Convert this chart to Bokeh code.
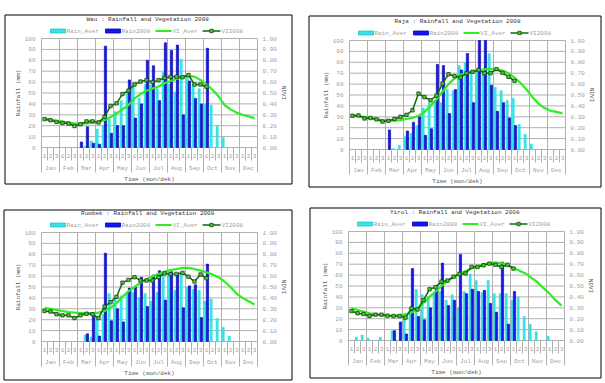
import math
from bokeh.plotting import figure
from bokeh.models import Range1d
from bokeh.core.properties import value
from bokeh.layouts import row, column
from bokeh.embed import file_html
from bokeh.resources import INLINE

# ---------------- data ----------------
dekads = list(range(36))
dekad_labels = ["1", "2", "3"] * 12
months = ["Jan", "Feb", "Mar", "Apr", "May", "Jun", "Jul", "Aug", "Sep", "Oct", "Nov", "Dec"]
rain_ticks = [0, 10, 20, 30, 40, 50, 60, 70, 80, 90, 100]
ndvi_ticks = [0.0, 0.1, 0.2, 0.3, 0.4, 0.5, 0.6, 0.7, 0.8, 0.9, 1.0]
legend_labels = ["Rain_Aver", "Rain2008", "VI_Aver", "VI2008"]
y_title = "Rainfall (mm)"
y2_title = "NDVI"
x_title = "Time (mon/dek)"

wau_title = "Wau  : Rainfall and Vegetation 2008"
wau_rain_aver = [0, 0, 0, 0, 0, 0, 0, 1, 6, 17, 20, 26, 33, 43, 52, 56, 45, 58, 57, 54,
                 69, 58, 51, 81, 64, 58, 54, 40, 39, 20, 9, 0, 0, 0, 0, 0]
wau_rain_2008 = [0, 0, 0, 0, 0, 0, 5, 19, 4, 3, 93, 13, 20, 20, 62, 27, 40, 80, 75, 43,
                 96, 89, 94, 30, 61, 45, 40, 91, 0, 0, 0, 0, 0, 0, 0, 0]
wau_vi_aver = [0.265, 0.255, 0.245, 0.237, 0.228, 0.222, 0.218, 0.222, 0.228, 0.235, 0.25, 0.28,
               0.31, 0.35, 0.39, 0.45, 0.49, 0.52, 0.54, 0.56, 0.59, 0.61, 0.63, 0.645,
               0.655, 0.65, 0.62, 0.58, 0.53, 0.47, 0.39, 0.35, 0.32, 0.30, 0.285, 0.27]
wau_vi_2008 = [0.26, 0.25, 0.235, 0.225, 0.22, 0.197, 0.213, 0.24, 0.24, 0.23, 0.28, 0.38,
               0.405, 0.49, 0.522, 0.578, 0.605, 0.618, 0.60, 0.618, 0.638, 0.648, 0.65, 0.645,
               0.665, 0.578, 0.578, 0.558]

raja_title = "Raja : Rainfall and Vegetation 2008"
raja_rain_aver = [0, 0, 0, 0, 0, 0, 0, 1, 4, 12, 15, 22, 38, 43, 45, 43, 55, 54, 77, 80,
                  70, 72, 70, 88, 57, 54, 45, 47, 23, 14, 5, 0, 0, 0, 0, 0]
raja_rain_2008 = [0, 0, 0, 0, 0, 0, 18, 0, 0, 17, 25, 30, 13, 19, 78, 77, 33, 55, 73, 88,
                  43, 100, 100, 59, 35, 43, 29, 22, 0, 0, 0, 0, 0, 0, 0, 0]
raja_vi_aver = [0.31, 0.305, 0.30, 0.29, 0.28, 0.27, 0.265, 0.265, 0.27, 0.28, 0.29, 0.31,
                0.345, 0.40, 0.46, 0.53, 0.60, 0.65, 0.685, 0.70, 0.715, 0.725, 0.735, 0.74,
                0.735, 0.725, 0.70, 0.66, 0.61, 0.55, 0.48, 0.42, 0.38, 0.355, 0.345, 0.33]
raja_vi_2008 = [0.31, 0.313, 0.285, 0.289, 0.276, 0.257, 0.264, 0.28, 0.30, 0.318, 0.36, 0.513,
                0.48, 0.452, 0.495, 0.605, 0.69, 0.673, 0.66, 0.70, 0.713, 0.73, 0.70, 0.70,
                0.737, 0.703, 0.667, 0.63]

rumbek_title = "Rumbek  : Rainfall and Vegetation 2008"
rumbek_rain_aver = [0, 0, 0, 0, 0, 0, 0, 6, 4, 22, 25, 44, 40, 42, 45, 45, 40, 44, 37, 45,
                    63, 63, 47, 62, 50, 48, 47, 37, 39, 21, 13, 5, 0, 0, 0, 0]
rumbek_rain_2008 = [0, 0, 0, 0, 0, 0, 0, 7, 23, 5, 81, 19, 30, 18, 49, 50, 59, 32, 61, 65,
                    38, 64, 62, 31, 51, 52, 22, 71, 0, 0, 0, 0, 0, 0, 0, 0]
rumbek_vi_aver = [0.31, 0.30, 0.29, 0.28, 0.27, 0.265, 0.26, 0.26, 0.26, 0.265, 0.28, 0.31,
                  0.35, 0.41, 0.46, 0.50, 0.54, 0.57, 0.60, 0.62, 0.64, 0.655, 0.665, 0.675,
                  0.675, 0.665, 0.65, 0.635, 0.615, 0.59, 0.55, 0.50, 0.44, 0.40, 0.37, 0.34]
rumbek_vi_2008 = [0.28, 0.275, 0.25, 0.24, 0.24, 0.215, 0.24, 0.255, 0.25, 0.215, 0.32, 0.36,
                  0.41, 0.54, 0.565, 0.59, 0.56, 0.56, 0.56, 0.59, 0.625, 0.618, 0.62, 0.63,
                  0.595, 0.55, 0.615, 0.58]

yirol_title = "Yirol  : Rainfall and Vegetation 2008"
yirol_rain_aver = [0, 3, 5, 2, 0, 3, 0, 9, 0, 22, 30, 47, 42, 40, 43, 45, 37, 42, 30, 45,
                   61, 55, 44, 55, 43, 43, 43, 37, 40, 22, 15, 8, 0, 4, 0, 0]
yirol_rain_2008 = [0, 0, 0, 0, 0, 0, 0, 9, 17, 6, 66, 22, 19, 30, 47, 71, 32, 37, 79, 43,
                   47, 45, 46, 34, 26, 72, 15, 45, 0, 0, 0, 0, 0, 0, 0, 0]
yirol_vi_aver = [0.295, 0.28, 0.265, 0.25, 0.24, 0.232, 0.228, 0.226, 0.23, 0.24, 0.255, 0.29,
                 0.345, 0.40, 0.45, 0.50, 0.545, 0.58, 0.61, 0.635, 0.66, 0.68, 0.70, 0.712,
                 0.715, 0.71, 0.69, 0.665, 0.64, 0.615, 0.575, 0.535, 0.48, 0.43, 0.37, 0.32]
yirol_vi_2008 = [0.27, 0.25, 0.243, 0.225, 0.237, 0.237, 0.228, 0.225, 0.225, 0.21, 0.295, 0.285,
                 0.37, 0.47, 0.49, 0.54, 0.55, 0.585, 0.61, 0.615, 0.675, 0.675, 0.69, 0.705,
                 0.695, 0.675, 0.695, 0.66]

# ---------------- style ----------------
FONT = "Liberation Mono"
FS = "6px"
CYAN = "#38e2e6"
CYAN_EDGE = "#20c8cc"
BLUE = "#1616f5"
BLUE_EDGE = "#0000a8"
LIME = "#2cee22"
DKGREEN = "#0c6a0c"
MARK_FILL = "#58c03a"
MARK_EDGE = "#073807"
GRID = "#b0b0b0"
LIGHT_TXT = "#a0a0a0"
DARK_TXT = "#555555"
TITLE_TXT = "#333333"

PW, PH = 216, 109          # plot area size in px
XS = PW / 36.0             # px per dekad
YS = PH / 100.0            # px per mm


def txt(p, x, y, texts, align="center", baseline="middle", color=LIGHT_TXT, angle=0.0,
        xr="default", yr="default"):
    p.text(x=x, y=y, text=texts, text_align=align, text_baseline=baseline,
           text_color=color, text_font=value(FONT), text_font_size=value(FS),
           angle=angle, x_range_name=xr, y_range_name=yr)


def make_panel(title, rain_aver, rain_2008, vi_aver, vi_2008, CW, CH, ox, oy, W, H, L, T):
    # CW x CH: cell canvas; (ox, oy): panel offset in the cell; W x H: panel;
    # (L, T): plot area offset inside the panel
    xs0 = -0.5 - (ox + L) / XS
    xs1 = -0.5 + (CW - ox - L) / XS
    yb = -(CH - (oy + T + PH)) / YS
    yt = 100 + (oy + T) / YS
    p = figure(width=CW, height=CH, x_range=Range1d(xs0, xs1), y_range=Range1d(yb, yt),
               x_axis_type=None, y_axis_type=None, output_backend="svg",
               toolbar_location=None, min_border=0, min_border_left=0, min_border_right=0,
               min_border_top=0, min_border_bottom=0)
    p.title_location = None
    p.outline_line_color = None
    p.background_fill_color = "white"
    p.border_fill_color = "white"
    # panel-relative pixel ranges (x to the right, y downwards)
    p.extra_y_ranges = {"ndvi": Range1d(yb / 100.0, yt / 100.0),
                        "py": Range1d(CH - oy, -oy)}
    p.extra_x_ranges = {"px": Range1d(-ox, CW - ox)}

    month_bounds = [b - 0.5 for b in range(0, 37, 3)]
    month_centers = [c for c in range(1, 36, 3)]
    dek_bounds = [b - 0.5 for b in range(0, 37)]
    bottom_px = T + PH

    # panel border
    p.quad(left=[0.5], right=[W - 0.5], top=[0.5], bottom=[H - 0.5], fill_color=None,
           line_color="black", line_width=1, x_range_name="px", y_range_name="py")

    # grid
    p.segment(x0=[-0.5] * len(rain_ticks), x1=[35.5] * len(rain_ticks), y0=rain_ticks,
              y1=rain_ticks, line_color=GRID, line_width=1)
    p.segment(x0=month_bounds, x1=month_bounds, y0=[0] * len(month_bounds),
              y1=[100] * len(month_bounds), line_color=GRID, line_width=1)
    # dekad / month separators below the plot
    p.segment(x0=dek_bounds, x1=dek_bounds, y0=[bottom_px] * len(dek_bounds),
              y1=[bottom_px + 13] * len(dek_bounds), line_color=GRID, line_width=1,
              y_range_name="py")
    p.segment(x0=month_bounds, x1=month_bounds, y0=[bottom_px] * len(month_bounds),
              y1=[bottom_px + 25] * len(month_bounds), line_color=GRID, line_width=1,
              y_range_name="py")

    # bars
    cx = [d - 0.22 for d, v in zip(dekads, rain_aver) if v > 0]
    cy = [v for v in rain_aver if v > 0]
    bx = [d + 0.16 for d, v in zip(dekads, rain_2008) if v > 0]
    by = [v for v in rain_2008 if v > 0]
    p.vbar(x=cx, top=cy, bottom=0, width=0.38, fill_color=CYAN, line_color=CYAN,
           line_width=0.5)
    p.vbar(x=bx, top=by, bottom=0, width=0.38, fill_color=BLUE, line_color=BLUE_EDGE,
           line_width=0.6)

    # NDVI lines
    p.line(x=dekads, y=vi_aver, y_range_name="ndvi", line_color=LIME, line_width=2.2)
    xv = dekads[:len(vi_2008)]
    p.line(x=xv, y=vi_2008, y_range_name="ndvi", line_color=DKGREEN, line_width=1.5)
    p.scatter(x=xv, y=vi_2008, y_range_name="ndvi", marker="square", size=3.4,
              fill_color=MARK_FILL, line_color=MARK_EDGE, line_width=0.7)

    # tick labels
    txt(p, [L - 6] * len(rain_ticks), rain_ticks, [str(t) for t in rain_ticks],
        align="right", xr="px")
    txt(p, [L + PW + 5] * len(ndvi_ticks), ndvi_ticks, ["%.2f" % t for t in ndvi_ticks],
        align="left", xr="px", yr="ndvi")
    txt(p, dekads, [bottom_px + 8] * len(dekads), dekad_labels, yr="py")
    txt(p, month_centers, [bottom_px + 20.5] * len(month_centers), months, yr="py")

    # axis titles
    txt(p, [L - 23], [T + PH / 2.0], [y_title], color=DARK_TXT, angle=math.pi / 2,
        xr="px", yr="py")
    txt(p, [L + PW + 26], [T + PH / 2.0], [y2_title], color=DARK_TXT, angle=-math.pi / 2,
        xr="px", yr="py")
    txt(p, [L + PW / 2.0], [bottom_px + 32], [x_title], color=DARK_TXT, xr="px", yr="py")

    # title
    txt(p, [L + PW / 2.0], [T - 19], [title], color=TITLE_TXT, xr="px", yr="py")

    # legend
    ly = T - 7.5
    p.rect(x=[L + 16.5, L + 71.5], y=[ly, ly], width=15, height=4,
           fill_color=[CYAN, BLUE], line_color=[CYAN_EDGE, BLUE_EDGE], line_width=0.8,
           x_range_name="px", y_range_name="py")
    p.segment(x0=[L + 114], x1=[L + 130], y0=[ly], y1=[ly], line_color=LIME, line_width=2.2,
              x_range_name="px", y_range_name="py")
    p.segment(x0=[L + 161], x1=[L + 179], y0=[ly], y1=[ly], line_color=DKGREEN,
              line_width=1.5, x_range_name="px", y_range_name="py")
    p.scatter(x=[L + 170], y=[ly], marker="square", size=3.4, fill_color=MARK_FILL,
              line_color=MARK_EDGE, line_width=0.7, x_range_name="px", y_range_name="py")
    txt(p, [L + 25, L + 80, L + 131, L + 180], [ly] * 4, legend_labels, align="left",
        xr="px", yr="py")
    return p


# cells: left column 306 px wide, right 299; top row 195 px high, bottom 188
p1 = make_panel(wau_title, wau_rain_aver, wau_rain_2008, wau_vi_aver, wau_vi_2008,
                306, 195, 4, 14, 288, 170, 37, 24)
p2 = make_panel(raja_title, raja_rain_aver, raja_rain_2008, raja_vi_aver, raja_vi_2008,
                299, 195, 2, 15, 293, 172, 41, 25)
p3 = make_panel(rumbek_title, rumbek_rain_aver, rumbek_rain_2008, rumbek_vi_aver,
                rumbek_vi_2008, 306, 188, 3, 14, 289, 171, 38, 23)
p4 = make_panel(yirol_title, yirol_rain_aver, yirol_rain_2008, yirol_vi_aver, yirol_vi_2008,
                299, 188, 3, 12, 292, 171, 39, 24)

layout = column(row(p1, p2), row(p3, p4))

open("out.html", "w").write(file_html(layout, INLINE))
